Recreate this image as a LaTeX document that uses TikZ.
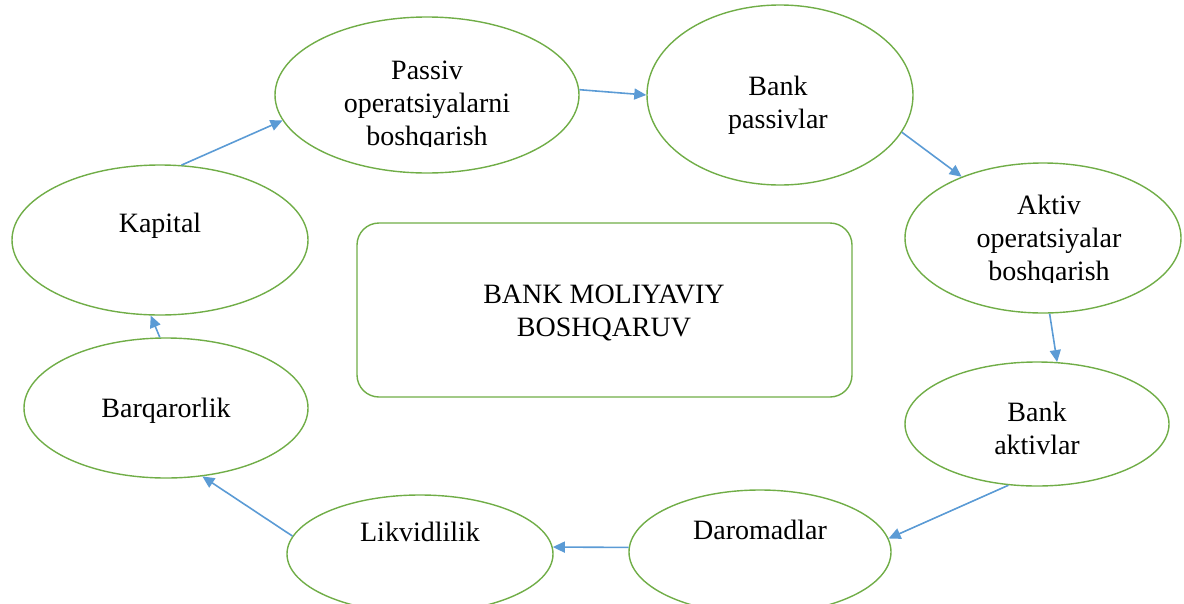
\documentclass[tikz,border=0pt]{standalone}
\usepackage{fontspec}
\setmainfont{Liberation Serif}
\usetikzlibrary{shapes.geometric,arrows.meta}
\definecolor{egreen}{RGB}{112,173,71}
\definecolor{ablue}{RGB}{91,155,213}
\tikzset{
 oval/.style={ellipse,draw=egreen,line width=1.4pt,inner sep=0pt},
 lbl/.style={align=center,font=\fontsize{28}{33}\selectfont,inner sep=0pt},
 conn/.style={draw=ablue,line width=1.6pt,-{Triangle[length=12pt,width=11pt]}},
}
\begin{document}
\begin{tikzpicture}[x=1pt,y=-1pt]
\useasboundingbox (0,0) rectangle (1184,603);
% ellipses
\node[oval,minimum width=304pt,minimum height=156pt] (pas) at (427,95) {};
\node[oval,minimum width=266pt,minimum height=180pt] (bpas) at (780,95) {};
\node[oval,minimum width=276pt,minimum height=150pt] (akt) at (1043,238) {};
\node[oval,minimum width=264pt,minimum height=124pt] (bakt) at (1037,424) {};
\node[oval,minimum width=262pt,minimum height=124pt] (dar) at (760,552) {};
\node[oval,minimum width=266pt,minimum height=118pt] (lik) at (420,554) {};
\node[oval,minimum width=284pt,minimum height=140pt] (bar) at (166,408) {};
\node[oval,minimum width=296pt,minimum height=150pt] (kap) at (160,240) {};
% central box
\node[draw=egreen,line width=1.4pt,rounded corners=22pt,minimum width=495pt,minimum height=174pt,inner sep=0pt] (box) at (604.5,310) {};
% texts
\begin{scope}
\clip (300,40) rectangle (560,146);
\node[lbl] (tpas) at (427,106) {Passiv\\operatsiyalarni\\boshqarish};
\end{scope}
\node[lbl] (tbpas) at (778,105) {Bank\\passivlar};
\begin{scope}
\clip (940,180) rectangle (1160,282);
\node[lbl] (takt) at (1049,241) {Aktiv\\operatsiyalar\\boshqarish};
\end{scope}
\node[lbl] (tbakt) at (1037,428) {Bank\\aktivlar};
\node[lbl] (tdar) at (760,530) {Daromadlar};
\node[lbl] (tlik) at (420,532) {Likvidlilik};
\node[lbl] (tbar) at (166,411) {Barqarorlik};
\node[lbl] (tkap) at (160,226) {Kapital};
\node[lbl] (tbox) at (604,313) {BANK MOLIYAVIY\\BOSHQARUV};
% connectors
\draw[conn] (kap.74) -- (pas.190);
\draw[conn] (pas.2) -- (bpas.180);
\draw[conn] (bpas.-17) -- (akt.143);
\draw[conn] (akt.-85) -- (bakt.72);
\draw[conn] (bakt.-115) -- (dar.6);
\draw[conn] (dar.178) -- (lik.3);
\draw[conn] (lik.172) -- (bar.-62);
\draw[conn] (bar.95) -- (kap.-97);
\end{tikzpicture}
\end{document}
